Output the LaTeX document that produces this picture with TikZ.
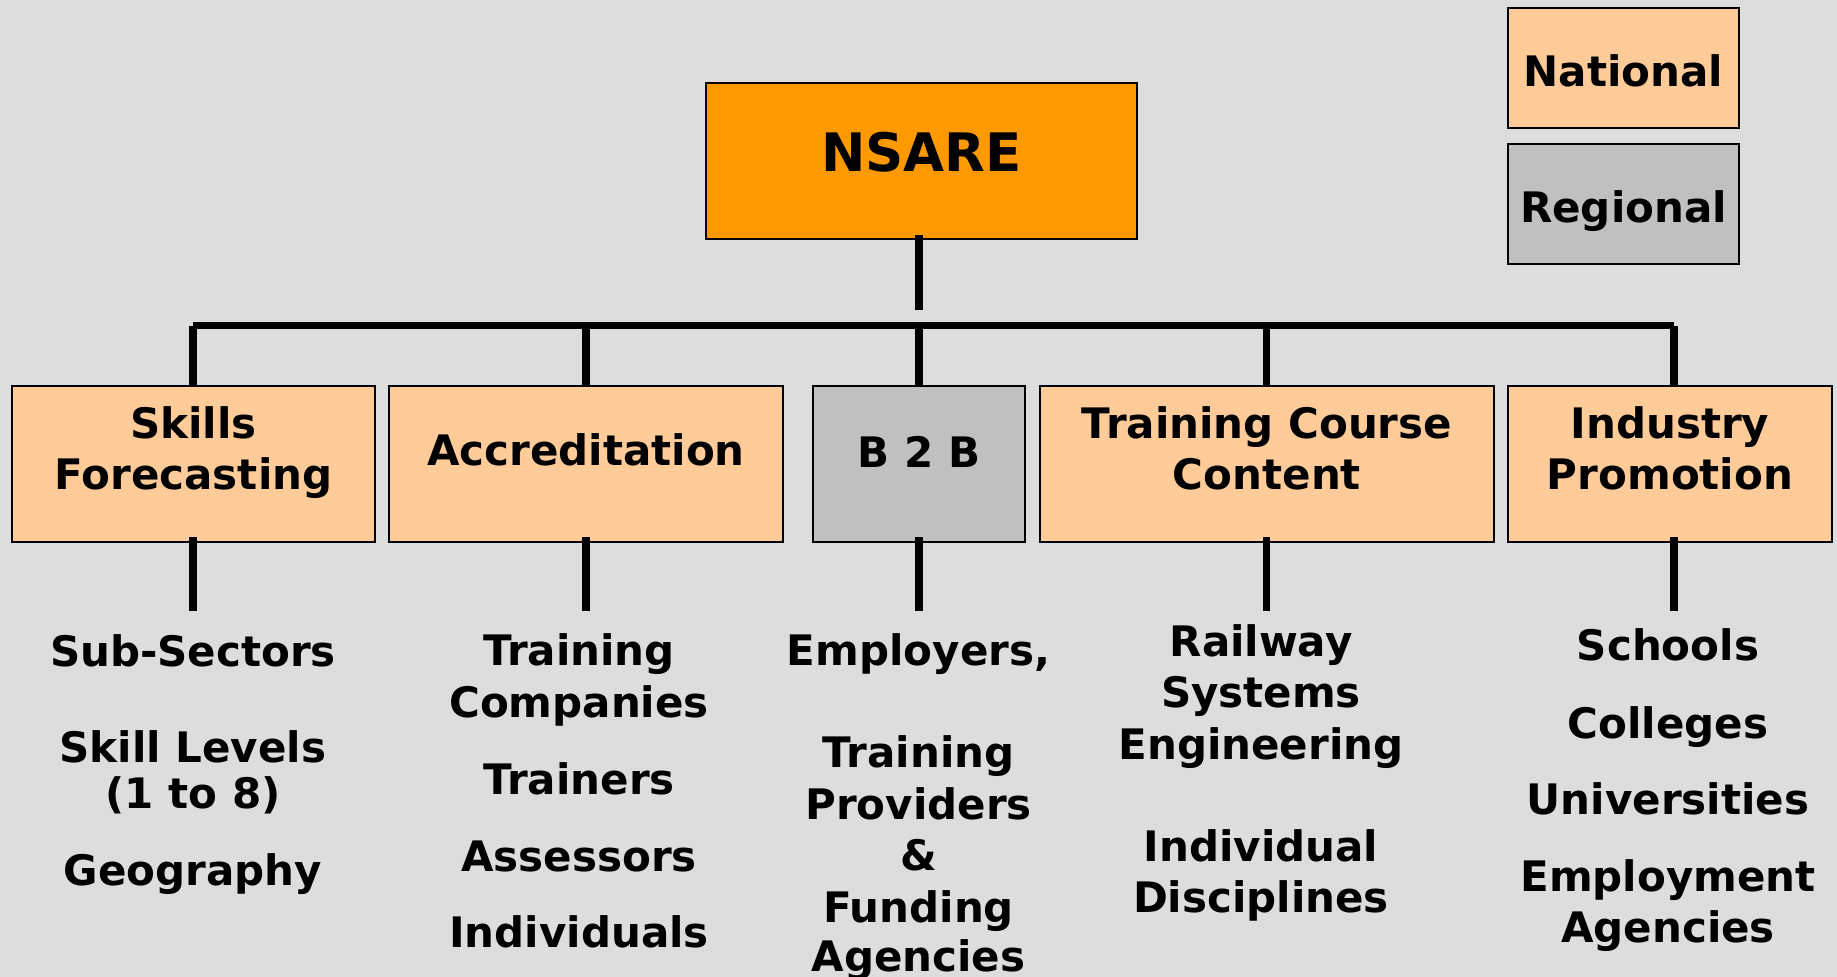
\documentclass[tikz,border=0pt]{standalone}
\usepackage{fontspec}
\setmainfont{DejaVu Sans}
\definecolor{bg}{HTML}{DDDDDD}
\definecolor{peach}{HTML}{FFCC99}
\definecolor{orangeN}{HTML}{FF9900}
\definecolor{grayR}{HTML}{C0C0C0}
\tikzset{
  box/.style={draw=black, line width=2pt, inner sep=0pt},
  natbox/.style={box, fill=peach},
  regbox/.style={box, fill=grayR},
  lbl/.style={font=\fontsize{42}{51.5}\selectfont\bfseries, inner sep=0pt, anchor=base},
  big/.style={font=\fontsize{53}{60}\selectfont\bfseries, inner sep=0pt, anchor=base},
  conn/.style={line width=7.5pt},
  bar/.style={line width=7.5pt}
}
\begin{document}
\begin{tikzpicture}[x=1pt,y=-1pt]
\fill[bg] (0,0) rectangle (1837,977);
\useasboundingbox (0,0) rectangle (1837,977);

% legend
\node[natbox, minimum width=231pt, minimum height=120pt] (national) at (1623.5,68) {};
\node[lbl] (nationalT) at (1623.5,86) {National};
\node[regbox, minimum width=231pt, minimum height=120pt] (regional) at (1623.5,204) {};
\node[lbl] (regionalT) at (1623.5,222) {Regional};

% top
\node[box, fill=orangeN, minimum width=431pt, minimum height=156pt] (nsare) at (921.5,161) {};
\node[big] (nsareT) at (921.5,171) {NSARE};

% level 2 boxes
\node[natbox, minimum width=363pt, minimum height=156pt] (skills) at (193.5,464) {};
\node[natbox, minimum width=394pt, minimum height=156pt] (accr) at (586,464) {};
\node[regbox, minimum width=212pt, minimum height=156pt] (btb) at (919,464) {};
\node[natbox, minimum width=454pt, minimum height=156pt] (tcc) at (1267,464) {};
\node[natbox, minimum width=324pt, minimum height=156pt] (ind) at (1670,464) {};

\node[lbl] (skillsA) at (193.5,438) {Skills};
\node[lbl] (skillsB) at (193.5,489) {Forecasting};
\node[lbl] (accrT) at (586,465) {Accreditation};
\node[lbl] (btbT) at (919,467) {B 2 B};
\node[lbl] (tccA) at (1267,438) {Training Course};
\node[lbl] (tccB) at (1267,489) {Content};
\node[lbl] (indA) at (1670,438) {Industry};
\node[lbl] (indB) at (1670,489) {Promotion};

% connectors
\coordinate (nsareEnd) at (919,310);
\coordinate (barL) at (193,325.5);
\coordinate (barR) at (1674,325.5);
\draw[conn] ([yshift=5pt]nsare.south -| nsareEnd) -- (nsareEnd);
\draw[bar] (barL) -- (barR);
\foreach \n/\xx in {skills/193, accr/586, btb/919, tcc/1266.5, ind/1674}{
  \coordinate (top\n) at (\xx,325.5);
  \draw[conn] (top\n) -- (\xx,387) coordinate (drop\n);
  \coordinate (sub\n) at (\xx,611);
  \draw[conn] (\xx,537) -- (sub\n);
}

% column 1
\node[lbl] (c1a) at (193,666) {Sub-Sectors};
\node[lbl] (c1b) at (193,762) {Skill Levels};
\node[lbl] (c1c) at (193,808) {(1 to 8)};
\node[lbl] (c1d) at (193,885) {Geography};
% column 2
\node[lbl] (c2a) at (579,665) {Training};
\node[lbl] (c2b) at (579,717) {Companies};
\node[lbl] (c2c) at (579,794) {Trainers};
\node[lbl] (c2d) at (579,871) {Assessors};
\node[lbl] (c2e) at (579,947) {Individuals};
% column 3
\node[lbl] (c3a) at (918.5,665) {Employers,};
\node[lbl] (c3b) at (918.5,767) {Training};
\node[lbl] (c3c) at (918.5,819) {Providers};
\node[lbl] (c3d) at (918.5,870) {\&};
\node[lbl] (c3e) at (918.5,922) {Funding};
\node[lbl] (c3f) at (918.5,971) {Agencies};
% column 4
\node[lbl] (c4a) at (1261,656) {Railway};
\node[lbl] (c4b) at (1261,707) {Systems};
\node[lbl] (c4c) at (1261,759) {Engineering};
\node[lbl] (c4d) at (1261,861) {Individual};
\node[lbl] (c4e) at (1261,912) {Disciplines};
% column 5
\node[lbl] (c5a) at (1668,660) {Schools};
\node[lbl] (c5b) at (1668,738) {Colleges};
\node[lbl] (c5c) at (1668,814) {Universities};
\node[lbl] (c5d) at (1668,891) {Employment};
\node[lbl] (c5e) at (1668,942) {Agencies};
\end{tikzpicture}
\end{document}
